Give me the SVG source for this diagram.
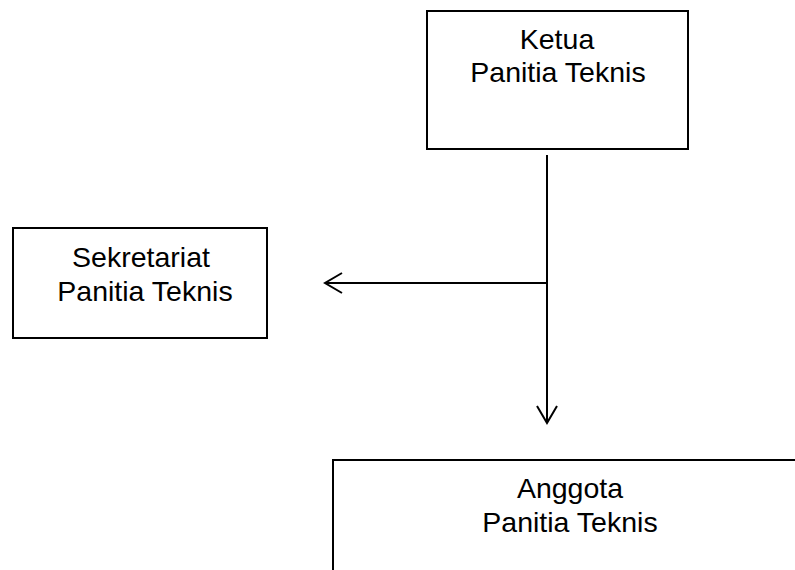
<svg xmlns="http://www.w3.org/2000/svg" width="795" height="570" viewBox="0 0 795 570">
<defs>
<style>
.box{fill:#fff;stroke:#000;stroke-width:2}
.lbl{font-family:"Liberation Sans",Arial,sans-serif;font-size:28.5px;fill:#000;text-anchor:middle}
.con{fill:none;stroke:#000;stroke-width:2}
</style>
<marker id="open" viewBox="0 0 20 24" refX="18" refY="12" markerWidth="20" markerHeight="24" markerUnits="userSpaceOnUse" orient="auto">
<polyline points="1,2 18,12 1,22" fill="none" stroke="#000" stroke-width="2"/>
</marker>
</defs>
<rect width="795" height="570" fill="#fff"/>
<g id="ketua">
<rect class="box" x="427" y="11" width="261" height="138"/>
<text class="lbl" x="557" y="49">Ketua</text>
<text class="lbl" x="558" y="82">Panitia Teknis</text>
</g>
<g id="sekretariat">
<rect class="box" x="13" y="228" width="254" height="110"/>
<text class="lbl" x="141" y="267">Sekretariat</text>
<text class="lbl" x="145" y="301">Panitia Teknis</text>
</g>
<g id="anggota">
<rect class="box" x="333" y="460" width="480" height="130"/>
<text class="lbl" x="570" y="498">Anggota</text>
<text class="lbl" x="570" y="532">Panitia Teknis</text>
</g>
<g id="connectors">
<line class="con" x1="547" y1="155" x2="547" y2="423" marker-end="url(#open)"/>
<line class="con" x1="547" y1="283" x2="325" y2="283" marker-end="url(#open)"/>
</g>
</svg>
